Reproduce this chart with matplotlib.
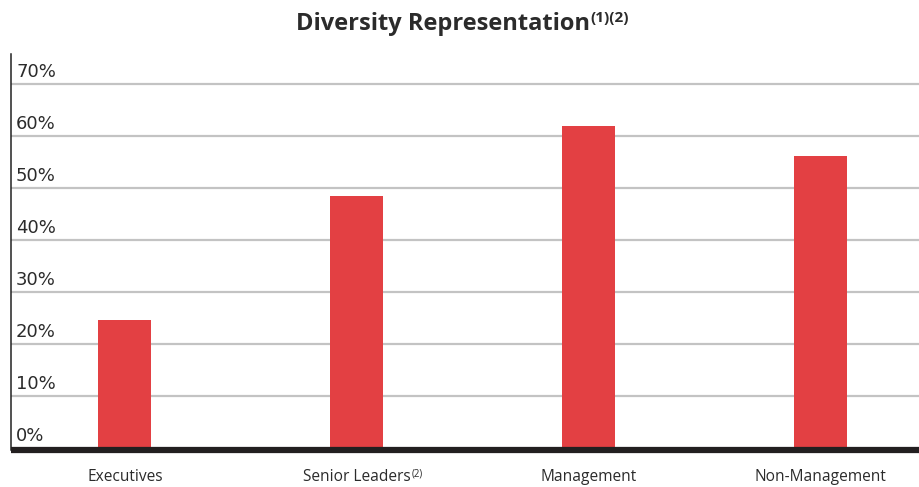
import numpy as np
import matplotlib.pyplot as plt

# data
categories = ["Executives", "Senior Leaders", "Management", "Non-Management"]
values = [24.7, 48.5, 62.0, 56.2]
yticks = [0, 10, 20, 30, 40, 50, 60, 70]
ytick_labels = ["0%", "10%", "20%", "30%", "40%", "50%", "60%", "70%"]

bar_color = "#e34043"
grid_color = "#c3c3c3"
text_color = "#2b2b2b"

fig = plt.figure(figsize=(9.2, 4.87), dpi=100)
ax = fig.add_axes([11 / 920, 1 - 450 / 487, 1 - 11 / 920, (450 - 54) / 487])

x = np.arange(len(categories))
ax.bar(x, values, width=0.228, color=bar_color, zorder=3)

ax.set_xlim(-0.491, 3.427)
ax.set_ylim(-0.38, 75.8)

# gridlines with labels sitting on top of them
for t in yticks[1:]:
    ax.axhline(t, color=grid_color, lw=1.6, zorder=1)
for t, lab in zip(yticks, ytick_labels):
    ax.text(5 / 909, t + 0.6, lab, transform=ax.get_yaxis_transform(),
            fontsize=13, color=text_color, ha="left", va="bottom",
            family="DejaVu Sans")

ax.set_yticks([])
ax.set_xticks(x)
ax.set_xticklabels(categories, fontsize=11.2, color=text_color, family="Open Sans")
ax.tick_params(axis="x", length=0, pad=13.5)

for s in ["top", "right"]:
    ax.spines[s].set_visible(False)
ax.spines["left"].set_linewidth(1.1)
ax.spines["left"].set_color("#222222")
ax.spines["bottom"].set_linewidth(4.5)
ax.spines["bottom"].set_color("#231f20")
ax.spines["bottom"].set_capstyle("butt")
ax.spines["bottom"].set_zorder(4)

# footnote marker on Senior Leaders
lbl = ax.get_xticklabels()[1]
ax.annotate("(2)", xy=(1, 1), xycoords=lbl, xytext=(0.5, 0), textcoords="offset points",
            fontsize=7, color=text_color, ha="left", va="top", family="Open Sans")

# title
title = fig.text(443 / 920, 1 - 30 / 487, "Diversity Representation", fontsize=17,
                 fontweight="bold", color=text_color, ha="center", va="baseline",
                 family="Open Sans")
ax.annotate("(1)(2)", xy=(1, 1), xycoords=title, xytext=(0.5, 1), textcoords="offset points",
            fontsize=11, fontweight="bold", color=text_color, ha="left", va="top",
            family="Open Sans", annotation_clip=False)

fig.savefig("out.png", dpi=100)
